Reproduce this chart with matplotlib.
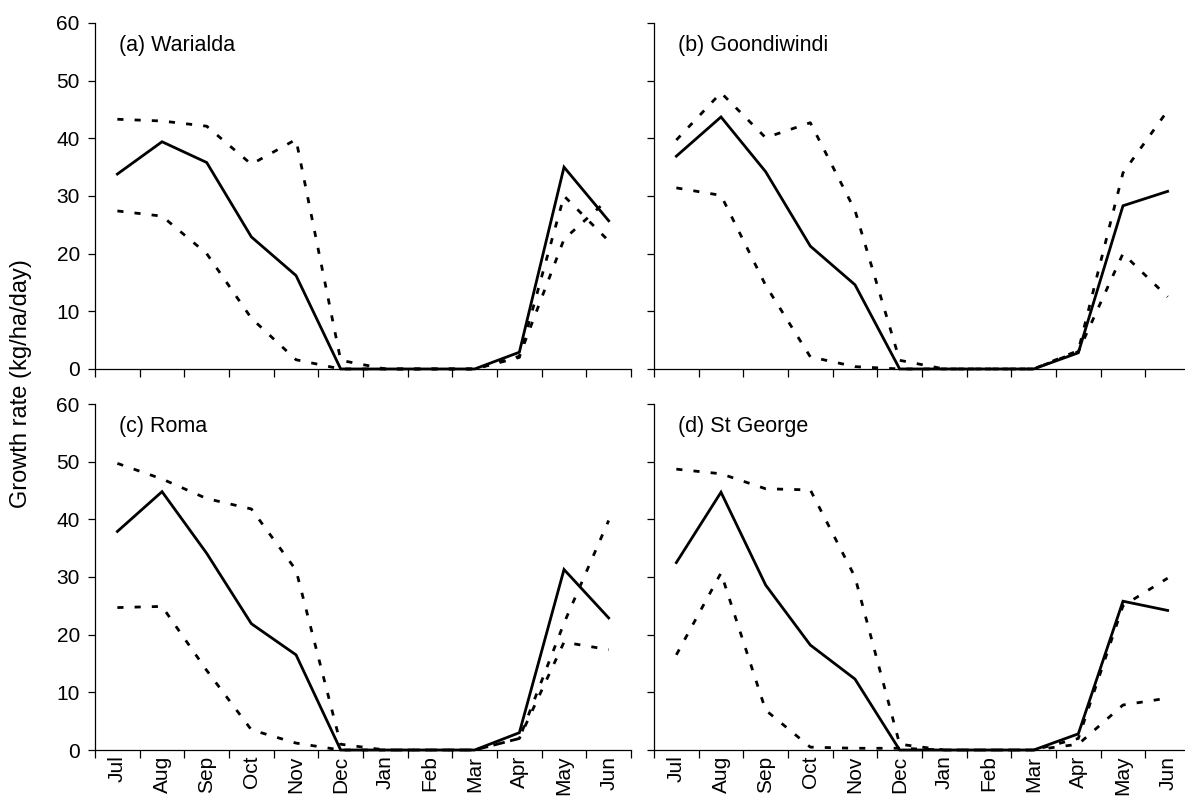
import numpy as np
import matplotlib
matplotlib.use('Agg')
import matplotlib.pyplot as plt

plt.rcParams['font.family'] = ['Liberation Sans', 'DejaVu Sans']

months = ['Jul', 'Aug', 'Sep', 'Oct', 'Nov', 'Dec', 'Jan', 'Feb', 'Mar', 'Apr', 'May', 'Jun']
sites = ['(a) Warialda', '(b) Goondiwindi', '(c) Roma', '(d) St George']

# monthly growth rate (kg/ha/day): mean and the two bounding series
warialda_mean = [33.8, 39.4, 35.8, 22.9, 16.2, 0, 0, 0, 0, 2.9, 35.0, 25.7]
warialda_upper = [43.3, 43.0, 42.1, 35.5, 39.8, 1.5, 0, 0, 0, 2.0, 30.0, 22.2]
warialda_lower = [27.4, 26.5, 20.0, 8.8, 1.6, 0, 0, 0, 0, 2.2, 22.5, 29.5]

goondiwindi_mean = [36.9, 43.7, 34.2, 21.3, 14.6, 0, 0, 0, 0, 2.8, 28.3, 30.8]
goondiwindi_upper = [39.7, 47.9, 40.1, 42.7, 27.5, 1.5, 0, 0, 0, 3.2, 34.0, 44.8]
goondiwindi_lower = [31.4, 30.1, 14.5, 2.1, 0.4, 0, 0, 0, 0, 3.0, 20.0, 12.5]

roma_mean = [37.9, 44.8, 34.1, 21.9, 16.5, 0, 0, 0, 0, 3.0, 31.3, 22.9]
roma_upper = [49.7, 47.0, 43.6, 41.8, 31.2, 1.0, 0, 0, 0, 2.0, 22.0, 39.8]
roma_lower = [24.7, 24.9, 13.8, 3.5, 1.2, 0, 0, 0, 0, 2.0, 18.7, 17.4]

stgeorge_mean = [32.5, 44.7, 28.6, 18.2, 12.3, 0, 0, 0, 0, 2.8, 25.8, 24.2]
stgeorge_upper = [48.7, 47.9, 45.3, 45.1, 30.0, 1.0, 0, 0, 0, 2.0, 25.0, 29.8]
stgeorge_lower = [16.5, 30.7, 6.9, 0.5, 0.3, 0.3, 0, 0, 0, 1.0, 7.8, 9.0]

series = [
    (warialda_mean, warialda_upper, warialda_lower),
    (goondiwindi_mean, goondiwindi_upper, goondiwindi_lower),
    (roma_mean, roma_upper, roma_lower),
    (stgeorge_mean, stgeorge_upper, stgeorge_lower),
]

fig = plt.figure(figsize=(11.85, 8), dpi=100)

# axes boxes in figure fractions (left, bottom, width, height)
w, h = 0.4523, 0.4325
boxes = [(0.0802, 0.5388, w, h), (0.5519, 0.5388, w, h),
         (0.0802, 0.0625, w, h), (0.5519, 0.0625, w, h)]

x = np.arange(len(months)) + 0.5

for i, (box, name, (mean, upper, lower)) in enumerate(zip(boxes, sites, series)):
    ax = fig.add_axes(box)
    ax.plot(x, upper, color='black', lw=2.0, dashes=(2.2, 4.0), clip_on=False)
    ax.plot(x, lower, color='black', lw=2.0, dashes=(2.2, 4.0), clip_on=False)
    ax.plot(x, mean, color='black', lw=2.0, solid_joinstyle='miter', clip_on=False)

    ax.set_xlim(0, 12)
    ax.set_ylim(0, 60)
    ax.spines['top'].set_visible(False)
    ax.spines['right'].set_visible(False)
    for s in ['left', 'bottom']:
        ax.spines[s].set_linewidth(0.9)

    # category axis: ticks between months, labels at month centres
    ax.set_xticks(np.arange(0, 13))
    ax.set_xticklabels([])
    ax.set_xticks(x, minor=True)
    if i >= 2:
        ax.set_xticklabels(months, minor=True, rotation=90, fontsize=15)
    ax.tick_params(axis='x', which='major', direction='out', length=6, width=0.9)
    ax.tick_params(axis='x', which='minor', length=0, pad=4)

    ax.set_yticks(np.arange(0, 61, 10))
    if i % 2 == 1:
        ax.set_yticklabels([])
    ax.tick_params(axis='y', direction='out', length=5, width=0.9, pad=6, labelsize=15)

    ax.text(0.045, 0.935, name, transform=ax.transAxes, fontsize=15.5, va='center', ha='left')

fig.text(0.018, 0.52, 'Growth rate (kg/ha/day)', rotation=90, fontsize=17,
         va='center', ha='center')

fig.savefig('out.png', dpi=100)
